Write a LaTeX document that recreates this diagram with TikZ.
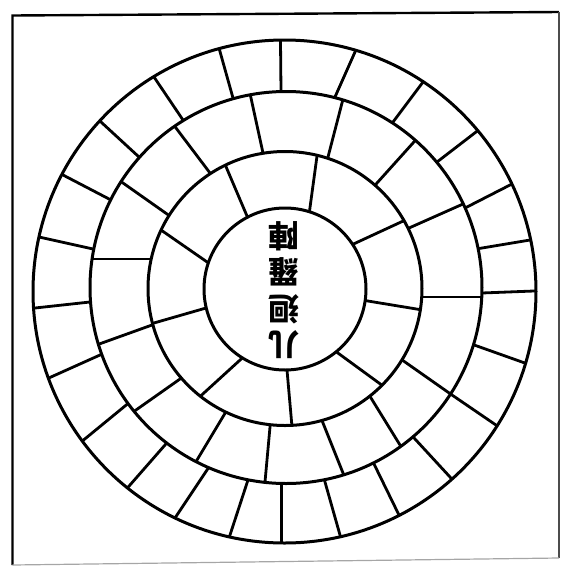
\documentclass[tikz,border=0pt]{standalone}
\usepackage{fontspec}
\newfontfamily\cjk{Noto Sans CJK TC}
\begin{document}
\begin{tikzpicture}[x=1pt,y=-1pt,
  ring/.style={line width=3pt},
  spoke/.style={line width=2.8pt, shorten <=-8pt, shorten >=-8pt},
  frameline/.style={line width=2.4pt}]
\useasboundingbox (0,0) rectangle (561,566);
% frame
\coordinate (f1) at (12.5,15.5);
\coordinate (f2) at (559,12);
\coordinate (f3) at (559,558);
\coordinate (f4) at (12.5,565);
\draw[frameline] (f4) -- (f1) -- (f2);
\draw[line width=1.2pt, black!70] (f2) -- (f3);
\draw[line width=1.2pt, black!35] (f3) -- (f4);
% centres
\coordinate (c1) at (284.5,291.5);
\coordinate (c2) at (286,287.5);
\coordinate (c3) at (285,288.5);
\coordinate (c4) at (285,289);
% outer ring spokes
\begin{scope}
\clip (c1) circle (251.5pt);
\foreach \ax/\ay/\bx/\by in {
 280.5/41/281/91, 355/52/335/97, 423/82/393/122, 476/132/437/162,
 510/185/467/207, 530/240/482/248, 534/291/482/293, 522/362/477/346,
 493/423/452/395, 450/477/415/439, 398/513/375/466, 340/535/325/482,
 281.7/542/281.7/487, 230/535/247/483, 177/515/207/470, 130/485/165/445,
 86/438/125/406, 51/377/100/355, 35/308/90/302, 39/237/93/249,
 63/175/111/200, 101/122/139/157, 154/77/183/120, 219/48/233/98}
 { \draw[spoke] (\ax,\ay) -- (\bx,\by); }
\end{scope}
\fill[white] (c2) circle (196pt);
% second ring spokes
\begin{scope}
\clip (c2) circle (196pt);
\foreach \ax/\ay/\bx/\by in {
 251/98/263/153, 342/103/328/157, 413/143/377/183, 463/204/409/228,
 482/297/423/297, 452/395/405/362, 400/445/371/398, 343/473/323/423,
 265/482/270/427, 197/460/224/415, 136/410/180/379, 102/343/152/325,
 93/259/148/259, 123/183/167/214, 176/128/210/173}
 { \draw[spoke] (\ax,\ay) -- (\bx,\by); }
\end{scope}
\fill[white] (c3) circle (137pt);
% third ring spokes
\begin{scope}
\clip (c3) circle (137pt);
\foreach \ax/\ay/\bx/\by in {
 226.7/168.3/247.3/216.7, 316.7/158.3/309.3/212.7, 401.7/221.7/355/243.3,
 418.3/309.3/366/300.7, 381.7/385/338.3/353.3, 291.7/423.3/287.3/373.3,
 201.7/395/239.3/360.7, 155/322.7/205/308.3, 164.3/232.3/206.7/261.7}
 { \draw[spoke] (\ax,\ay) -- (\bx,\by); }
\end{scope}
\fill[white] (c4) circle (81pt);
% circles
\draw[ring] (c1) circle (251.5pt);
\draw[ring] (c2) circle (196pt);
\draw[ring] (c3) circle (137pt);
\draw[ring] (c4) circle (81pt);
% title (printed upside down)
\node[rotate=180, align=center, font=\cjk\bfseries\fontsize{31}{36.5}\selectfont, inner sep=0pt]
  (title) at (284,290) {儿\\迴\\羅\\陣};
\end{tikzpicture}
\end{document}
